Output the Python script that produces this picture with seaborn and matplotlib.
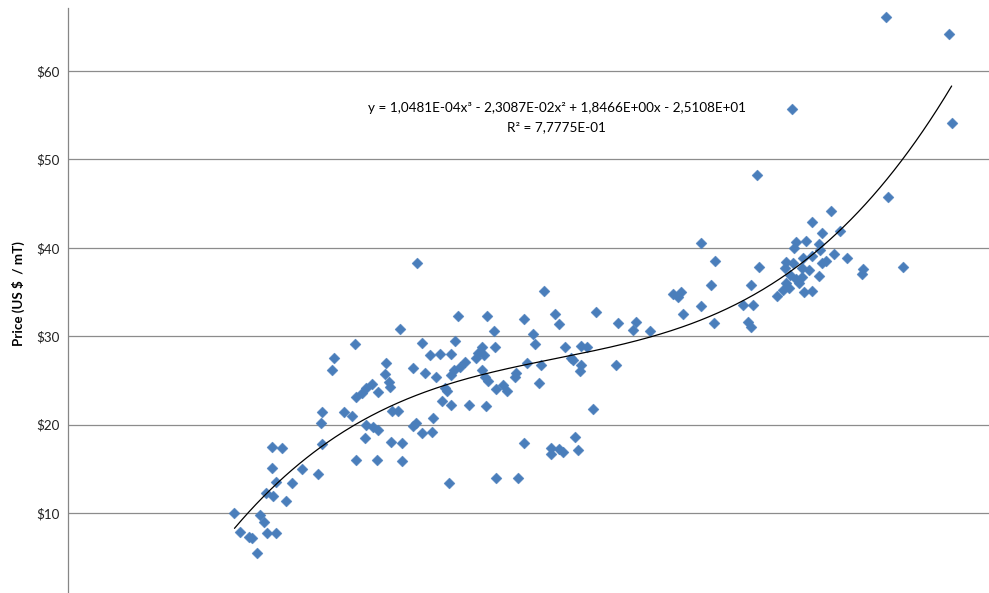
import numpy as np
import pandas as pd
import matplotlib
matplotlib.use("Agg")
import matplotlib.pyplot as plt
import seaborn as sns

# Observations: quantity (x) versus price in US$ per metric tonne (y)
x_vals = [
    25.0, 25.9, 27.2, 27.6, 28.4, 28.8, 29.5, 29.9, 31.2, 30.6,
    32.2, 30.6, 31.2, 29.7, 30.8, 32.8, 33.6, 35.2, 37.6, 38.2,
    38.0, 38.2, 40.0, 39.6, 41.5, 42.7, 43.1, 43.2, 43.2, 44.1,
    44.8, 45.6, 46.6, 44.6, 44.8, 45.8, 46.6, 46.4, 47.7, 47.6,
    48.2, 48.3, 48.6, 49.6, 48.5, 50.2, 50.2, 49.8, 51.8, 52.4,
    51.8, 52.3, 53.1, 53.6, 54.3, 55.9, 57.5, 55.2, 53.2, 54.6,
    54.8, 56.1, 56.6, 56.9, 57.2, 57.5, 57.5, 57.9, 58.8, 59.6,
    58.1, 58.5, 60.2, 61.3, 61.6, 62.1, 62.4, 64.1, 64.0, 62.9,
    62.1, 62.6, 63.1, 62.7, 64.3, 65.3, 65.9, 64.3, 67.3, 67.1,
    67.6, 68.5, 69.0, 68.5, 69.8, 70.2, 70.7, 71.5, 71.1, 72.6,
    72.5, 73.1, 73.7, 73.7, 74.4, 74.7, 75.6, 75.9, 76.1, 76.6,
    76.9, 77.1, 77.1, 77.9, 78.8, 79.3, 82.6, 82.3, 85.3, 84.8,
    87.4, 90.9, 91.6, 92.1, 92.4, 95.0, 95.1, 96.5, 97.2, 97.0,
    101.4, 102.5, 102.9, 102.1, 102.5, 103.5, 103.7, 106.4, 107.3, 107.8,
    108.2, 108.4, 109.4, 109.8, 110.2, 107.6, 110.2, 111.3, 107.8, 108.9,
    110.4, 111.7, 109.0, 109.4, 110.8, 110.6, 111.8, 112.8, 113.0, 111.7,
    113.2, 113.9, 113.3, 112.8, 114.6, 115.0, 116.0, 117.0, 108.8, 119.2,
    119.4, 122.8, 123.2, 125.4, 132.3, 132.7,
]
price_vals = [
    10.03, 7.82, 7.32, 7.14, 5.44, 9.83, 9.02, 7.79, 7.79, 17.50,
    17.32, 15.06, 13.54, 12.26, 11.87, 11.39, 13.43, 14.98, 14.41, 21.43,
    20.15, 17.75, 27.57, 26.15, 21.40, 21.03, 29.16, 16.00, 23.09, 23.61,
    24.11, 24.65, 23.72, 18.45, 19.92, 19.69, 19.39, 16.00, 26.93, 25.72,
    24.79, 24.29, 21.54, 21.59, 18.03, 17.95, 15.92, 30.78, 26.40, 38.31,
    19.84, 20.22, 29.20, 25.80, 27.87, 27.95, 28.01, 25.35, 19.02, 19.20,
    20.80, 22.70, 24.14, 23.80, 13.43, 22.22, 25.61, 26.18, 26.52, 27.12,
    29.42, 32.28, 22.22, 27.50, 28.07, 28.78, 27.87, 28.74, 30.61, 32.28,
    26.18, 25.44, 24.97, 22.10, 24.03, 24.48, 23.80, 13.93, 25.89, 25.38,
    13.99, 31.98, 27.00, 17.88, 30.25, 29.12, 24.67, 35.15, 26.74, 17.32,
    16.67, 32.51, 31.38, 17.24, 16.93, 28.81, 27.57, 27.31, 18.63, 17.13,
    26.12, 26.74, 28.86, 28.74, 21.73, 32.71, 31.53, 26.74, 31.64, 30.70,
    30.59, 34.77, 34.47, 35.03, 32.48, 40.60, 33.47, 35.76, 38.53, 31.46,
    33.53, 35.83, 33.53, 31.64, 31.08, 48.24, 37.86, 34.55, 35.23, 36.02,
    35.45, 36.92, 36.44, 36.05, 36.70, 37.68, 37.68, 37.54, 38.43, 38.25,
    38.81, 39.02, 40.01, 40.69, 40.80, 35.00, 35.11, 40.43, 39.70, 42.92,
    41.62, 38.56, 38.28, 36.81, 44.13, 39.35, 41.93, 38.90, 55.70, 37.04,
    37.57, 66.07, 45.75, 37.86, 64.19, 54.15,
]

# Cubic trendline coefficients (highest power first) and fit quality
coef = [1.0481e-04, -2.3087e-02, 1.8466e+00, -2.5108e+01]
r_squared = 7.7775e-01
equation_text = "y = 1,0481E-04x³ - 2,3087E-02x² + 1,8466E+00x - 2,5108E+01"
r2_text = "R² = 7,7775E-01"

y_ticks = [10, 20, 30, 40, 50, 60]
y_tick_labels = ["$10", "$20", "$30", "$40", "$50", "$60"]
y_label = "Price (US $  / mT)"

sns.set_theme(style="white")
plt.rcParams["font.family"] = ["Lato", "DejaVu Sans"]

df = pd.DataFrame({"x": x_vals, "price": price_vals})
xs = np.linspace(min(x_vals), max(x_vals), 400)
trend = pd.DataFrame({"x": xs, "price": np.polyval(coef, xs)})

W, H = 989, 593
fig = plt.figure(figsize=(W / 100, H / 100), dpi=100)
ax_left = 68 / W
ax_top = 8 / H
ax = fig.add_axes([ax_left, 0, 1 - ax_left, 1 - ax_top])

ax.set_xlim(0, (W - 68) / 6.659)
ax.set_ylim(0.95, 67.13)

for v in y_ticks:
    ax.axhline(v, color="#8c8c8c", linewidth=0.9, zorder=0)

sns.scatterplot(data=df, x="x", y="price", ax=ax, marker="D", s=31,
                color="#4A7EBB", edgecolor="#4A7EBB", linewidth=0.3, zorder=3)
sns.lineplot(data=trend, x="x", y="price", ax=ax, color="black",
             linewidth=0.9, zorder=4)

ax.text(73.4, 55.8, equation_text, ha="center", va="center", fontsize=9.7,
        color="black")
ax.text(73.4, 53.65, r2_text, ha="center", va="center", fontsize=9.7,
        color="black")

ax.set_yticks(y_ticks)
ax.set_yticklabels(y_tick_labels)
ax.set_xticks([])
ax.tick_params(axis="y", length=0, pad=6, labelsize=9.6, labelcolor="#222222")
ax.set_xlabel("")
ax.set_ylabel("")

# Axis title placed in figure pixels
fig.text(18 / W, 1 - 294 / H, y_label, rotation=90, ha="center", va="center",
         fontsize=9.6, fontweight="bold", color="black")

for side in ["top", "right", "bottom"]:
    ax.spines[side].set_visible(False)
ax.spines["left"].set_color("#868686")
ax.spines["left"].set_linewidth(0.9)
ax.set_facecolor("white")
fig.patch.set_facecolor("white")

fig.savefig("out.png", dpi=100, facecolor="white")
